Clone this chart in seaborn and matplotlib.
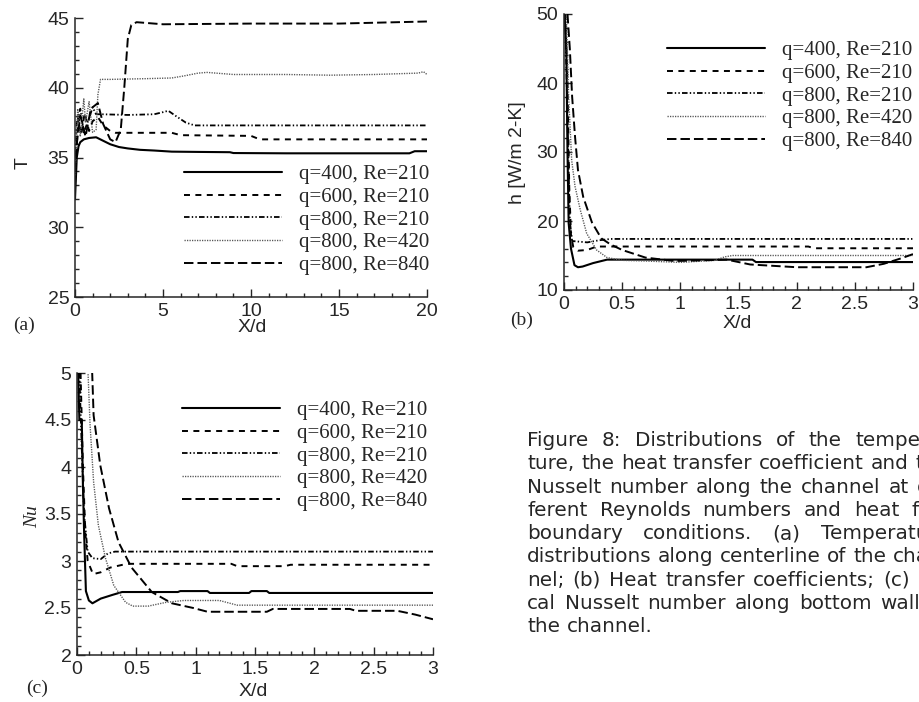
import matplotlib
matplotlib.use("Agg")
import matplotlib.pyplot as plt
import matplotlib.ticker as mticker
import seaborn as sns

# series labels / line styles (q = heat flux, Re = Reynolds number)
labels = ["q=400, Re=210", "q=600, Re=210", "q=800, Re=210", "q=800, Re=420", "q=800, Re=840"]

# (a) centreline temperature T vs X/d
a_x_400 = [0, 0.05, 0.1, 0.2, 0.3, 0.5, 0.8, 1.2, 1.6, 2.0, 2.5, 3.0, 3.7, 4.5, 5.5, 7, 8.8, 9, 12, 15, 19, 19.3, 20]
a_T_400 = [32.0, 33.5, 35.0, 35.8, 36.1, 36.3, 36.4, 36.45, 36.2, 35.95, 35.75, 35.65, 35.55, 35.5, 35.42,
           35.4, 35.38, 35.32, 35.3, 35.3, 35.3, 35.45, 35.45]
a_x_600 = [0, 0.08, 0.2, 0.35, 0.55, 0.8, 1.0, 1.3, 1.6, 2.0, 2.3, 5.5, 6.0, 10.0, 10.5, 20]
a_T_600 = [33.5, 35.5, 37.8, 36.6, 38.2, 36.9, 37.6, 37.9, 37.3, 36.9, 36.77, 36.77, 36.6, 36.55, 36.3, 36.3]
a_x_800a = [0, 0.1, 0.3, 0.5, 0.8, 1.0, 1.2, 1.5, 3, 4.5, 5.0, 5.3, 5.7, 6.3, 6.8, 10, 15, 20]
a_T_800a = [34, 37.5, 38.5, 36.8, 37.8, 38.6, 38.1, 38.1, 38.05, 38.1, 38.25, 38.35, 38.0, 37.5, 37.3, 37.3, 37.3, 37.3]
a_x_800b = [0, 0.15, 0.3, 0.5, 0.6, 0.8, 1.0, 1.2, 1.3, 1.45, 2, 4, 5.5, 6.2, 7.0, 7.5, 9, 12, 14.5, 17, 19.5, 19.8, 20]
a_T_800b = [33, 38.5, 36.5, 39.2, 37.5, 39.0, 36.8, 37.0, 39.5, 40.6, 40.6, 40.65, 40.7, 40.85, 41.05, 41.1,
            40.95, 40.95, 40.9, 40.95, 41.05, 41.15, 40.95]
a_x_800c = [0, 0.1, 0.3, 0.6, 0.9, 1.3, 1.6, 2.0, 2.3, 2.6, 2.8, 3.0, 3.2, 3.5, 5, 10, 15, 20]
a_T_800c = [33, 36, 38, 36.5, 38.5, 38.9, 37.4, 36.3, 36.1, 37.0, 40, 43.5, 44.5, 44.7, 44.55, 44.6, 44.6, 44.75]

# (b) heat transfer coefficient h vs X/d
b_x_400 = [0.005, 0.02, 0.03, 0.04, 0.06, 0.09, 0.12, 0.16, 0.25, 0.37, 1.0, 1.62, 1.65, 3.0]
b_h_400 = [50, 45, 30, 19.7, 16, 13.6, 13.3, 13.4, 13.9, 14.4, 14.4, 14.4, 14.05, 14.05]
b_x_600 = [0.01, 0.03, 0.045, 0.06, 0.08, 0.12, 0.2, 0.28, 0.4, 2.1, 2.15, 3.0]
b_h_600 = [50, 40, 25, 18, 16.2, 15.7, 15.8, 16.3, 16.3, 16.3, 16.05, 16.05]
b_x_800a = [0.01, 0.03, 0.05, 0.07, 0.2, 0.3, 0.4, 3.0]
b_h_800a = [50, 35, 20, 17.1, 16.9, 17.2, 17.4, 17.4]
b_x_800b = [0.02, 0.04, 0.066, 0.095, 0.14, 0.195, 0.28, 0.37, 0.5, 0.7, 1.0, 1.3, 1.38, 1.45, 3.0]
b_h_800b = [50, 38, 28.8, 25.0, 21.6, 18.2, 15.8, 14.7, 14.3, 14.2, 14.0, 14.3, 14.8, 15.0, 15.0]
b_x_800c = [0.03, 0.05, 0.07, 0.095, 0.12, 0.165, 0.24, 0.32, 0.4, 0.5, 0.7, 0.95, 1.2, 1.4, 1.6, 2.0,
            2.6, 2.75, 2.9, 3.0]
b_h_800c = [50, 45, 38, 32.2, 27.4, 23.5, 19.8, 17.5, 16.6, 15.8, 14.7, 14.2, 14.3, 14.4, 13.7, 13.3,
            13.3, 13.8, 14.6, 15.2]

# (c) local Nusselt number along bottom wall
c_x_400 = [0.0, 0.01, 0.02, 0.04, 0.05, 0.06, 0.075, 0.1, 0.13, 0.2, 0.3, 0.38, 0.85, 0.87, 1.1, 1.12,
           1.45, 1.47, 1.6, 1.62, 3.0]
c_Nu_400 = [5.0, 5.0, 4.5, 4.5, 3.8, 3.3, 2.68, 2.58, 2.55, 2.6, 2.64, 2.67, 2.67, 2.68, 2.68, 2.66,
            2.66, 2.68, 2.68, 2.66, 2.66]
c_x_600 = [0.03, 0.05, 0.07, 0.09, 0.135, 0.2, 0.28, 0.42, 1.3, 1.35, 1.75, 1.8, 3.0]
c_Nu_600 = [5.0, 4.0, 3.3, 3.0, 2.86, 2.88, 2.93, 2.97, 2.97, 2.945, 2.945, 2.96, 2.96]
c_x_800a = [0.02, 0.04, 0.06, 0.09, 0.13, 0.2, 0.26, 0.32, 3.0]
c_Nu_800a = [5.0, 4.2, 3.5, 3.1, 3.03, 3.02, 3.08, 3.1, 3.1]
c_x_800b = [0.085, 0.093, 0.11, 0.14, 0.18, 0.24, 0.31, 0.41, 0.47, 0.6, 0.75, 0.9, 1.2, 1.35, 3.0]
c_Nu_800b = [5.2, 5.0, 4.45, 3.84, 3.38, 3.03, 2.74, 2.56, 2.52, 2.52, 2.56, 2.58, 2.58, 2.53, 2.53]
c_x_800c = [0.12, 0.14, 0.196, 0.27, 0.35, 0.46, 0.63, 0.8, 0.98, 1.1, 1.6, 1.65, 2.3, 2.35, 2.7, 2.85, 3.0]
c_Nu_800c = [5.3, 4.55, 4.02, 3.56, 3.2, 2.93, 2.67, 2.55, 2.5, 2.46, 2.46, 2.49, 2.49, 2.47, 2.47, 2.43, 2.38]

caption_lines = [
    "Figure 8:  Distributions of the tempera-",
    "ture, the heat transfer coefficient and the",
    "Nusselt number along the channel at dif-",
    "ferent Reynolds numbers and heat flux",
    "boundary conditions.  (a) Temperature",
    "distributions along centerline of the chan-",
    "nel; (b) Heat transfer coefficients; (c) Lo-",
    "cal Nusselt number along bottom wall of",
    "the channel.",
]

sns.set_style("ticks")
plt.rcParams["font.family"] = ["Liberation Sans", "DejaVu Sans"]
plt.rcParams["lines.scale_dashes"] = False
plt.rcParams["axes.linewidth"] = 1.1

styles = [
    dict(linestyle="-", lw=1.5, color="black"),
    dict(linestyle=(0, (4.3, 3.9)), lw=1.4, color="black"),
    dict(linestyle=(0, (4, 1.6, 1, 1.6, 1, 1.6)), lw=1.3, color="black"),
    dict(linestyle=(0, (0.9, 0.9)), lw=1.0, color="#555555"),
    dict(linestyle=(0, (6.8, 2.9)), lw=1.4, color="black"),
]

W, H = 919, 702
fig = plt.figure(figsize=(W / 100, H / 100), dpi=100)


def px_rect(left, top, right, bottom):
    return [left / W, 1 - bottom / H, (right - left) / W, (bottom - top) / H]


def style_axis(ax, xlim, ylim, xmaj, xmin, ymaj, ymin):
    ax.set_xlim(*xlim)
    ax.set_ylim(*ylim)
    ax.xaxis.set_major_locator(mticker.MultipleLocator(xmaj))
    ax.xaxis.set_minor_locator(mticker.MultipleLocator(xmin))
    ax.yaxis.set_major_locator(mticker.MultipleLocator(ymaj))
    ax.yaxis.set_minor_locator(mticker.MultipleLocator(ymin))
    fmt = mticker.FuncFormatter(lambda v, p: "%g" % v)
    ax.xaxis.set_major_formatter(fmt)
    ax.yaxis.set_major_formatter(fmt)
    ax.tick_params(which="major", direction="in", length=6, width=1, labelsize=14, pad=4)
    ax.tick_params(which="minor", direction="in", length=3, width=1)
    sns.despine(ax=ax)


def draw_panel(ax, xs, ys):
    for x, y, lab, st in zip(xs, ys, labels, styles):
        sns.lineplot(x=x, y=y, ax=ax, sort=False, estimator=None, label=lab, **st)


def add_legend(ax, anchor):
    ax.legend(loc="center left", bbox_to_anchor=anchor, frameon=False, borderpad=0, borderaxespad=0,
              handlelength=4.7, handletextpad=0.8, labelspacing=0.15,
              prop={"family": "Liberation Serif", "size": 15})


# panel (a)
ax_a = fig.add_axes(px_rect(75, 18, 427, 297))
draw_panel(ax_a, [a_x_400, a_x_600, a_x_800a, a_x_800b, a_x_800c],
           [a_T_400, a_T_600, a_T_800a, a_T_800b, a_T_800c])
style_axis(ax_a, (0, 20), (25, 45), 5, 1, 5, 1)
add_legend(ax_a, (0.31, 0.276))
ax_a.set_xlabel("X/d", fontsize=14, va="center")
ax_a.set_ylabel("T", fontsize=14, va="center")
ax_a.xaxis.set_label_coords(0.503, -0.111)
ax_a.yaxis.set_label_coords(-0.148, 0.48)

# panel (b)
ax_b = fig.add_axes(px_rect(564, 14, 913, 290))
draw_panel(ax_b, [b_x_400, b_x_600, b_x_800a, b_x_800b, b_x_800c],
           [b_h_400, b_h_600, b_h_800a, b_h_800b, b_h_800c])
style_axis(ax_b, (0, 3), (10, 50), 0.5, 0.1, 10, 2)
add_legend(ax_b, (0.295, 0.703))
ax_b.set_xlabel("X/d", fontsize=14, va="center")
ax_b.set_ylabel("h [W/m 2-K]", fontsize=14, va="center")
ax_b.xaxis.set_label_coords(0.496, -0.12)
ax_b.yaxis.set_label_coords(-0.132, 0.496)

# panel (c)
ax_c = fig.add_axes(px_rect(77, 373, 433, 655))
draw_panel(ax_c, [c_x_400, c_x_600, c_x_800a, c_x_800b, c_x_800c],
           [c_Nu_400, c_Nu_600, c_Nu_800a, c_Nu_800b, c_Nu_800c])
style_axis(ax_c, (0, 3), (2, 5), 0.5, 0.1, 0.5, 0.1)
add_legend(ax_c, (0.295, 0.706))
ax_c.set_xlabel("X/d", fontsize=14, va="center")
ax_c.set_ylabel("Nu", fontsize=14, va="center", family="Liberation Serif", style="italic")
ax_c.xaxis.set_label_coords(0.494, -0.131)
ax_c.yaxis.set_label_coords(-0.126, 0.489)

# panel tags
for tag, x, y in [("(a)", 13, 325), ("(b)", 510, 320), ("(c)", 26, 688)]:
    fig.text(x / W, 1 - y / H, tag, fontsize=14, family="Liberation Serif", ha="left", va="center")

# justified caption, cut by the right edge like the reference
renderer = fig.canvas.get_renderer()
cap_font = dict(fontsize=14.4, family="DejaVu Sans")


def text_width(s):
    t = fig.text(0, 0, s, **cap_font)
    w = t.get_window_extent(renderer).width
    t.remove()
    return w


space_w = text_width("a a") - text_width("aa")
ref_words = caption_lines[5].split()
line_w = sum(text_width(w) for w in ref_words) + space_w * (len(ref_words) - 1)
cap_left, cap_base, cap_step = 527, 446, 23.3
for i, line in enumerate(caption_lines):
    words = line.split()
    widths = [text_width(w) for w in words]
    if i < len(caption_lines) - 1 and len(words) > 1:
        gap = (line_w - sum(widths)) / (len(words) - 1)
    else:
        gap = space_w
    x = cap_left
    y = cap_base + cap_step * i
    for w, wd in zip(words, widths):
        fig.text(x / W, 1 - y / H, w, ha="left", va="baseline", **cap_font)
        x += wd + gap

fig.savefig("out.png", dpi=100)
